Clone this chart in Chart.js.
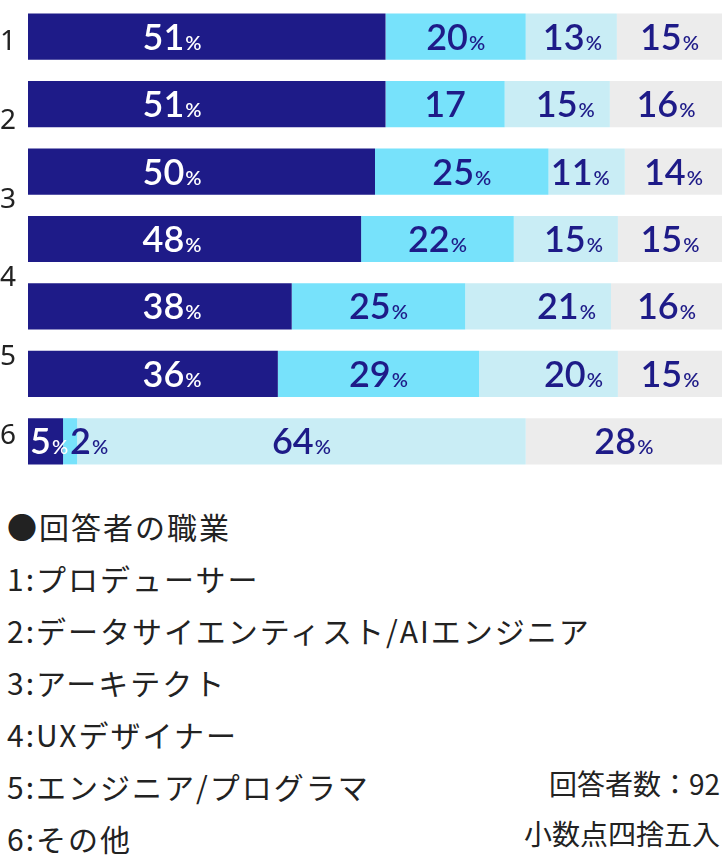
<!DOCTYPE html>
<html><head><meta charset="utf-8">
<script src="https://cdn.jsdelivr.net/npm/chart.js@4/dist/chart.umd.min.js"></script>
<style>
html,body{margin:0;padding:0;background:#fff;width:728px;height:864px;overflow:hidden;}
#wrap{position:absolute;left:0;top:0;width:728px;height:480px;}
.note{position:absolute;font-family:"Noto Sans CJK JP","Noto Sans",sans-serif;color:#222;white-space:nowrap;}
#legend{left:7px;top:500px;font-size:30px;line-height:52px;letter-spacing:2px;}
#respond{right:8px;top:758px;font-size:28px;line-height:50px;text-align:right;}
</style></head><body>
<div id="wrap"><canvas id="c" width="728" height="480"></canvas></div>
<div id="legend" class="note"></div>
<div id="respond" class="note"></div>
<script>
// ---- data ----
const rows = ['r1','r2','r3','r4','r5','r6','r7'];
const tickLabels = ['1','2','3','4','5','6'];
const seriesNames = ['A','B','C','D'];
const darkVals  = [51, 51, 50, 48, 38, 36, 5];
const lightVals = [20, 17, 25, 22, 25, 29, 2];
const paleVals  = [13, 15, 11, 15, 21, 20, 64];
const grayVals  = [15, 16, 14, 15, 16, 15, 28];
const noPercent = [[1, 1]]; // [series, row] labels shown without "%"
const legendTitle = '●回答者の職業';
const jobNames = ['1:プロデューサー','2:データサイエンティスト/AIエンジニア','3:アーキテクト','4:UXデザイナー','5:エンジニア/プログラマ','6:その他'];
const notes = ['回答者数：92','小数点四捨五入'];

// ---- build ----
const series = [darkVals, lightVals, paleVals, grayVals];
const colors = ['#1e1b88','#77e2fb','#c9edf5','#ececec'];
const totals = rows.map((_, j) => series.reduce((s, arr) => s + arr[j], 0));
const datasets = series.map((arr, i) => ({
  label: seriesNames[i],
  data: arr.map((v, j) => v / totals[j] * 100),
  backgroundColor: colors[i],
  borderWidth: 0,
  categoryPercentage: 1,
  barPercentage: 0.685,
  yAxisID: 'y'
}));

const NAVY = '#1e1b88';
const numFont = '600 36px Lato';
const pctFont = '600 20px Lato';
const labelPlugin = {
  id: 'segLabels',
  afterDatasetsDraw(chart) {
    const ctx = chart.ctx;
    const xs = chart.scales.x;
    const area = chart.chartArea;
    ctx.save();
    ctx.textBaseline = 'alphabetic';
    ctx.textAlign = 'left';
    chart.data.datasets.forEach((ds, di) => {
      const meta = chart.getDatasetMeta(di);
      meta.data.forEach((el, j) => {
        const p = el.getProps(['x', 'base', 'y'], true);
        const left = Math.min(p.x, p.base), right = Math.max(p.x, p.base);
        const segW = right - left;
        const num = String(series[di][j]);
        const hasPct = !noPercent.some(n => n[0] === di && n[1] === j);
        ctx.font = numFont; const wn = ctx.measureText(num).width;
        ctx.font = pctFont; const wp = hasPct ? ctx.measureText('%').width + 1 : 0;
        const w = wn + wp;
        let start;
        if (di === 0) {
          const endX = Math.min(xs.getPixelForValue(25), right - 1);
          start = Math.max(left + 2, endX - w);
        } else if (w > segW - 2) {
          start = left + 7;
        } else if (di === 2 && segW < 0.4 * (area.right - area.left)) {
          start = right - 15 - w;
        } else {
          start = left + (segW - w) / 2;
        }
        const base = p.y + 13;
        ctx.fillStyle = di === 0 ? '#ffffff' : NAVY;
        ctx.font = numFont; ctx.fillText(num, start, base);
        if (hasPct) { ctx.font = pctFont; ctx.fillText('%', start + wn + 1, base); }
      });
    });
    ctx.restore();
  }
};

new Chart(document.getElementById('c'), {
  type: 'bar',
  data: { labels: rows, datasets },
  options: {
    indexAxis: 'y',
    responsive: false,
    animation: false,
    layout: { padding: { top: 3, right: 6, bottom: 5, left: 0 } },
    plugins: { legend: { display: false }, tooltip: { enabled: false } },
    scales: {
      x: { stacked: true, display: false, min: 0, max: 100 },
      y: { stacked: true, display: false },
      y2: {
        type: 'category', labels: tickLabels, position: 'left', offset: true,
        grid: { display: false, drawTicks: false }, border: { display: false },
        ticks: { color: '#222', padding: 12, font: { family: 'Noto Sans', size: 28 } },
        afterFit(s) { s.width = 28; s.paddingTop = 0; s.paddingBottom = 0; }
      }
    }
  },
  plugins: [labelPlugin]
});

document.getElementById('legend').innerHTML = [legendTitle].concat(jobNames).map(t => '<div>' + t + '</div>').join('');
document.getElementById('respond').innerHTML = notes.map(t => '<div>' + t + '</div>').join('');
</script>
</body></html>
